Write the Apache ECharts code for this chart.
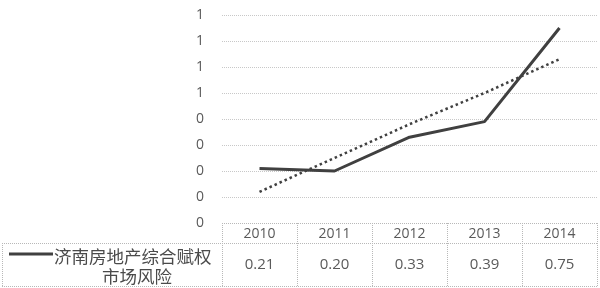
<!DOCTYPE html>
<html><head><meta charset="utf-8">
<script src="https://cdn.jsdelivr.net/npm/echarts@6/dist/echarts.min.js"></script>
<style>html,body{margin:0;padding:0;background:#fff}#c{width:600px;height:288px}</style>
</head><body><div id="c"></div>
<script>
const years = ['2010', '2011', '2012', '2013', '2014'];
const seriesName = '济南房地产综合赋权市场风险';
const legendLines = ['济南房地产综合赋权', '市场风险'];
const risk = [0.21, 0.20, 0.33, 0.39, 0.75];
const riskLabels = ['0.21', '0.20', '0.33', '0.39', '0.75'];
const trend = [0.12, 0.25, 0.38, 0.50, 0.63];

const FONT = '"Open Sans", Lato, "Noto Sans CJK SC", sans-serif';
const TXT = '#5a5a5a';
const chart = echarts.init(document.getElementById('c'));
const GRID = {left: 222, right: 3, top: 15, bottom: 65};
chart.setOption({
  animation: false,
  grid: GRID,
  xAxis: {type: 'category', data: years, boundaryGap: true,
    axisLine: {show: false}, axisTick: {show: false}, axisLabel: {show: false}},
  yAxis: {type: 'value', min: 0, max: 0.8, interval: 0.1,
    axisLine: {show: false}, axisTick: {show: false},
    axisLabel: {formatter: v => String(Math.round(v + 1e-9)), color: TXT, fontSize: 14, fontFamily: FONT, margin: 18},
    splitLine: {lineStyle: {color: '#c8c8c8', type: [1, 1], width: 1}}},
  series: [
    {name: seriesName, type: 'line', data: risk, symbol: 'none',
      lineStyle: {color: '#404040', width: 3}},
    {name: 'trend', type: 'line', data: trend, symbol: 'none',
      lineStyle: {color: '#404040', width: 2.5, type: [2.5, 3]}}
  ]
});

const px = years.map((y, i) => chart.convertToPixel({xAxisIndex: 0}, i));
const bw = px.length > 1 ? px[1] - px[0] : 75;
const x0 = px[0] - bw / 2, x1 = px[px.length - 1] + bw / 2;
const yTop = 288 - GRID.bottom, yMid = yTop + 20, yBot = 287;
const lineSt = {stroke: '#b8b8b8', lineWidth: 1, lineDash: [1, 1]};
const g = [];
const L = (a, b, c, d) => g.push({type: 'line', shape: {x1: a, y1: b, x2: c, y2: d}, style: lineSt, silent: true});
L(x0, yTop + 0.5, x1, yTop + 0.5);
L(2, yMid + 0.5, x1, yMid + 0.5);
L(2, yBot - 0.5, x1, yBot - 0.5);
L(2.5, yMid, 2.5, yBot);
for (let i = 0; i <= years.length; i++) {
  const x = Math.round(x0 + i * bw) + 0.5;
  L(x, yTop, x, yBot);
}
years.forEach((y, i) => {
  g.push({type: 'text', x: px[i], y: (yTop + yMid) / 2 + 1, silent: true,
    style: {text: y, fill: TXT, font: '14px ' + FONT, align: 'center', verticalAlign: 'middle'}});
  g.push({type: 'text', x: px[i], y: (yMid + yBot) / 2, silent: true,
    style: {text: riskLabels[i], fill: TXT, font: '15px ' + FONT, align: 'center', verticalAlign: 'middle'}});
});
g.push({type: 'line', shape: {x1: 9, y1: 254, x2: 53, y2: 254}, style: {stroke: '#404040', lineWidth: 3}, silent: true});
g.push({type: 'text', x: 54, y: 256, silent: true,
  style: {text: legendLines[0], fill: '#4a4a4a', font: '17.5px "Noto Sans CJK SC", sans-serif', align: 'left', verticalAlign: 'middle'}});
g.push({type: 'text', x: 137, y: 276, silent: true,
  style: {text: legendLines[1], fill: '#4a4a4a', font: '17.5px "Noto Sans CJK SC", sans-serif', align: 'center', verticalAlign: 'middle'}});
chart.setOption({graphic: g});
</script></body></html>
